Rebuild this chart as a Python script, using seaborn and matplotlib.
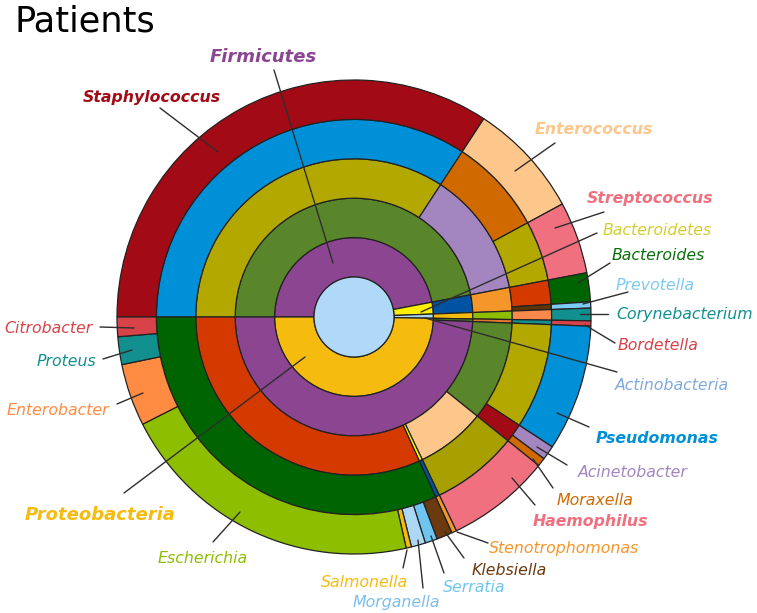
import matplotlib
matplotlib.use("Agg")
import matplotlib.pyplot as plt
import pandas as pd
import seaborn as sns

# %%
# genus level, clockwise starting at 9 o'clock (share of reads, %)
genus = ["Staphylococcus", "Enterococcus", "Streptococcus", "Bacteroides", "Prevotella",
         "Corynebacterium", "Bordetella", "Pseudomonas", "Acinetobacter", "Moraxella",
         "Haemophilus", "Stenotrophomonas", "Klebsiella", "Serratia", "Morganella",
         "Salmonella", "Escherichia", "Enterobacter", "Proteus", "Citrobacter"]
share = [34.22, 7.86, 4.92, 1.97, 0.42,
         0.86, 0.36, 8.61, 0.97, 0.58,
         7.11, 0.33, 1.08, 0.83, 0.97,
         0.36, 21.06, 4.25, 1.89, 1.33]
family = ["Staphylococcaceae", "Enterococcaceae", "Streptococcaceae", "Bacteroidaceae", "Prevotellaceae",
          "Corynebacteriaceae", "Alcaligenaceae", "Pseudomonadaceae", "Moraxellaceae", "Moraxellaceae",
          "Pasteurellaceae", "Xanthomonadaceae"] + ["Enterobacteriaceae"] * 8
order = ["Bacillales", "Lactobacillales", "Lactobacillales", "Bacteroidales", "Bacteroidales",
         "Corynebacteriales", "Burkholderiales", "Pseudomonadales", "Pseudomonadales", "Pseudomonadales",
         "Pasteurellales", "Xanthomonadales"] + ["Enterobacterales"] * 8
klass = ["Bacilli"] * 3 + ["Bacteroidia"] * 2 + ["Actinobacteria", "Betaproteobacteria"] \
    + ["Gammaproteobacteria"] * 13
phylum = ["Firmicutes"] * 3 + ["Bacteroidetes"] * 2 + ["Actinobacteria"] + ["Proteobacteria"] * 14

df = pd.DataFrame({"phylum": phylum, "klass": klass, "order": order,
                   "family": family, "genus": genus, "share": share})

# %%
ROOT_COLOR = "#B0D8F8"
PALETTE = {
    "phylum": {"Firmicutes": "#8B4591", "Bacteroidetes": "#FFEF00",
               "Actinobacteria": "#ADD8F5", "Proteobacteria": "#F6BB0F"},
    "klass": {"Bacilli": "#5A862B", "Bacteroidia": "#0052A3", "Actinobacteria": "#F6BB0F",
              "Betaproteobacteria": "#4E7A22", "Gammaproteobacteria": "#8B4591"},
    "order": {"Bacillales": "#B3A800", "Lactobacillales": "#A386C0", "Bacteroidales": "#F5962A",
              "Corynebacteriales": "#8DBE00", "Burkholderiales": "#E07830",
              "Pseudomonadales": "#5A862B", "Pasteurellales": "#FDC68A",
              "Xanthomonadales": "#FFEF00", "Enterobacterales": "#D43A00"},
    "family": {"Staphylococcaceae": "#0090D8", "Enterococcaceae": "#D06A00",
               "Streptococcaceae": "#B3A800", "Bacteroidaceae": "#D43A00",
               "Prevotellaceae": "#5E3500", "Corynebacteriaceae": "#F7894A",
               "Alcaligenaceae": "#11908F", "Pseudomonadaceae": "#B3A800",
               "Moraxellaceae": "#A20A15", "Pasteurellaceae": "#A8A000",
               "Xanthomonadaceae": "#0052A3", "Enterobacteriaceae": "#006400"},
    "genus": {"Staphylococcus": "#A20A15", "Enterococcus": "#FDC68A", "Streptococcus": "#F07080",
              "Bacteroides": "#006400", "Prevotella": "#7CCBF2", "Corynebacterium": "#11908F",
              "Bordetella": "#D8434A", "Pseudomonas": "#0090D8", "Acinetobacter": "#A386C0",
              "Moraxella": "#D06A00", "Haemophilus": "#F07080", "Stenotrophomonas": "#F5962A",
              "Klebsiella": "#6B3A0E", "Serratia": "#6EC6F0", "Morganella": "#ADD8F5",
              "Salmonella": "#F6BB0F", "Escherichia": "#8DBE00", "Enterobacter": "#FF8C42",
              "Proteus": "#11908F", "Citrobacter": "#D8434A"},
}

# label: (text x, baseline y, line start, line end) in image pixels (y down)
LABELS = {
    "Firmicutes": (263, 62, (274, 70), (333, 263)),
    "Staphylococcus": (152, 102, (160, 108), (218, 152)),
    "Enterococcus": (594, 134, (555, 143), (515, 171)),
    "Streptococcus": (650, 203, (604, 212), (555, 228)),
    "Bacteroidetes": (657, 235, (597, 233), (421, 312)),
    "Bacteroides": (658, 260, (610, 263), (578, 283)),
    "Prevotella": (655, 290, (628, 292), (583, 304)),
    "Corynebacterium": (685, 319, (608, 314), (580, 314)),
    "Bordetella": (658, 350, (615, 343), (585, 325)),
    "Actinobacteria": (672, 390, (617, 372), (425, 318)),
    "Pseudomonas": (657, 443, (589, 427), (557, 413)),
    "Acinetobacter": (633, 477, (567, 465), (537, 447)),
    "Moraxella": (595, 505, (553, 488), (533, 459)),
    "Haemophilus": (590, 526, (535, 505), (512, 478)),
    "Stenotrophomonas": (564, 553, (488, 543), (457, 532)),
    "Klebsiella": (509, 575, (464, 558), (445, 532)),
    "Serratia": (474, 592, (444, 573), (431, 536)),
    "Morganella": (396, 607, (423, 588), (418, 540)),
    "Salmonella": (364, 587, (403, 568), (407, 550)),
    "Escherichia": (203, 563, (213, 542), (240, 512)),
    "Enterobacter": (58, 415, (117, 404), (143, 393)),
    "Proteus": (66, 366, (103, 359), (132, 350)),
    "Citrobacter": (48, 333, (100, 327), (134, 328)),
    "Proteobacteria": (100, 520, (124, 493), (305, 357)),
}
LABEL_COLOR = {"Bacteroidetes": "#D4CD2E", "Actinobacteria": "#7FAADB",
               "Morganella": "#7DBDF0", "Bacteroides": "#0A6E0A"}
BOLD = ["Staphylococcus", "Enterococcus", "Streptococcus", "Pseudomonas", "Haemophilus"]
BIG = ["Firmicutes", "Proteobacteria"]

# %%
sns.set_theme(style="white")
plt.rcParams["font.family"] = ["DejaVu Sans"]

W, H = 757, 613
CX, CY = 354, H - 317
RADII = [40, 79.4, 118.8, 158.2, 197.6, 237]
EDGE = "#222222"

fig = plt.figure(figsize=(W / 100, H / 100), dpi=100)
ax = fig.add_axes([0, 0, 1, 1])

levels = ["phylum", "klass", "order", "family", "genus"]
for i, lvl in enumerate(levels):
    ring = df.groupby(lvl, sort=False)["share"].sum()
    ax.pie(ring.values, radius=RADII[i + 1], center=(CX, CY), startangle=180,
           counterclock=False, colors=[PALETTE[lvl][n] for n in ring.index],
           wedgeprops=dict(width=RADII[i + 1] - RADII[i], edgecolor=EDGE, linewidth=0.9))

ax.pie([df["share"].sum()], radius=RADII[0], center=(CX, CY), colors=[ROOT_COLOR],
       wedgeprops=dict(edgecolor=EDGE, linewidth=0.9))

# leader lines + labels
lookup = {}
for lvl in levels:
    for name in df[lvl].unique():
        lookup.setdefault(name, PALETTE[lvl][name])

for name, (tx, ty, p0, p1) in LABELS.items():
    ax.plot([p0[0], p1[0]], [H - p0[1], H - p1[1]], color="#2e2e2e", linewidth=1.0,
            solid_capstyle="round", zorder=5)
    color = LABEL_COLOR.get(name, lookup[name])
    if name in BIG:
        size, weight = 13, "bold"
    elif name in BOLD:
        size, weight = 11.3, "bold"
    else:
        size, weight = 11.3, "normal"
    ax.text(tx, H - ty, name, ha="center", va="baseline", fontsize=size,
            fontweight=weight, fontstyle="italic", color=color, zorder=6)

ax.text(14, H - 32, "Patients", ha="left", va="baseline", fontsize=25.3, color="black")

ax.set_xlim(0, W)
ax.set_ylim(0, H)
ax.set_aspect("equal")
ax.axis("off")

fig.savefig("out.png", dpi=100, facecolor="white")
